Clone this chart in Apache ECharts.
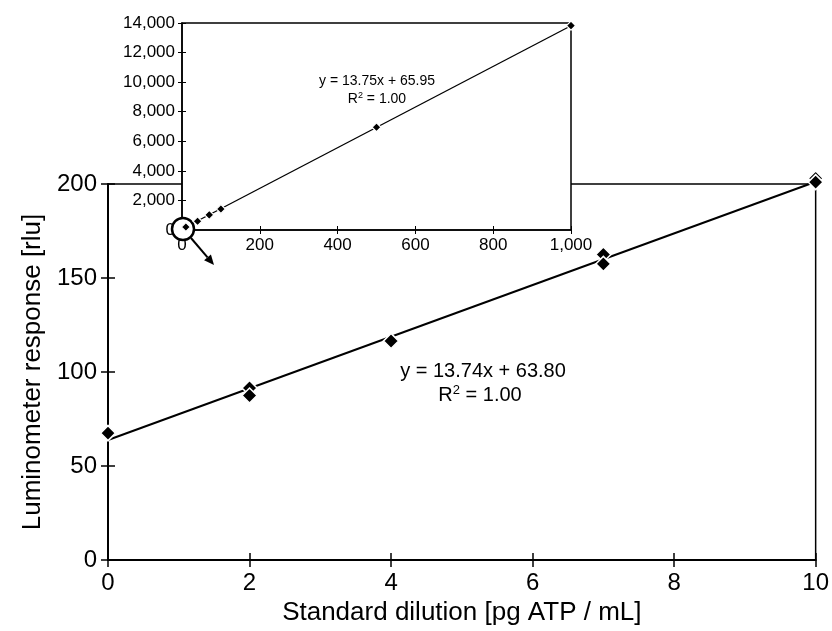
<!DOCTYPE html>
<html>
<head>
<meta charset="utf-8">
<script src="https://cdn.jsdelivr.net/npm/echarts@6/dist/echarts.min.js"></script>
<style>
  html, body { margin: 0; padding: 0; background: #fff; }
  #chart { width: 832px; height: 631px; }
</style>
</head>
<body>
<div id="chart"></div>
<script>
// Main calibration: standard dilutions (pg ATP / mL) and two replicate readings (rlu)
const xDilution = [0, 2, 4, 7, 10];
const rluRepA = [67.5, 91.5, 116.5, 162.5, 203];
const rluRepB = [67.5, 87.5, 116.5, 157.5, 201];
const mainFit = { slope: 13.74, intercept: 63.80, r2: '1.00' };
const mainXTicks = [0, 2, 4, 6, 8, 10];
const mainYTicks = [0, 50, 100, 150, 200];

// Inset: extended dilution range
const insetDilution = [10, 40, 70, 100, 500, 1000];
const insetRlu = [200, 590, 1020, 1420, 6950, 13820];
const insetFit = { slope: 13.75, intercept: 65.95, r2: '1.00' };
const insetXTicks = [0, 200, 400, 600, 800, 1000];
const insetYTicks = [0, 2000, 4000, 6000, 8000, 10000, 12000, 14000];

const FONT = 'Liberation Sans, Arial, sans-serif';
const NARROW = 'Liberation Sans Narrow, Arial Narrow, Liberation Sans, sans-serif';
const BLACK = '#000';

const pairs = (xs, ys) => xs.map((x, i) => [x, ys[i]]);
const fitLine = (fit, x0, x1) => [[x0, fit.intercept + fit.slope * x0], [x1, fit.intercept + fit.slope * x1]];
const fmtThousands = v => v.toLocaleString('en-US');

function valueAxis(opts) {
  return Object.assign({
    type: 'value',
    splitLine: { show: false },
    axisLine: { show: true, onZero: false, lineStyle: { color: BLACK, width: 2 } },
    axisTick: { show: true, inside: false, length: 7, lineStyle: { color: BLACK, width: 1.5 } },
    axisLabel: { color: BLACK, fontFamily: NARROW, fontSize: 24 }
  }, opts);
}
// companion axis that only draws the inner half of each crossing tick
function innerTicks(opts, len, width) {
  return Object.assign({
    type: 'value',
    splitLine: { show: false },
    axisLine: { show: false },
    axisLabel: { show: false },
    axisTick: { show: true, inside: true, length: len, lineStyle: { color: BLACK, width: width } }
  }, opts);
}

const chart = echarts.init(document.getElementById('chart'), null, { renderer: 'canvas' });

const mainX = { gridIndex: 0, min: mainXTicks[0], max: mainXTicks[mainXTicks.length - 1], interval: mainXTicks[1] - mainXTicks[0] };
const mainY = { gridIndex: 0, min: mainYTicks[0], max: mainYTicks[mainYTicks.length - 1], interval: mainYTicks[1] - mainYTicks[0] };
const inX = { gridIndex: 1, min: insetXTicks[0], max: insetXTicks[insetXTicks.length - 1], interval: insetXTicks[1] - insetXTicks[0] };
const inY = { gridIndex: 1, min: insetYTicks[0], max: insetYTicks[insetYTicks.length - 1], interval: insetYTicks[1] - insetYTicks[0] };

const option = {
  backgroundColor: '#fff',
  animation: false,
  grid: [
    { left: 108, right: 16, top: 184, bottom: 67, show: true, backgroundColor: 'transparent', borderColor: BLACK, borderWidth: 1.5, z: 0 },
    { left: 182, width: 389, top: 23, height: 207, show: true, backgroundColor: '#fff', borderColor: BLACK, borderWidth: 1.5, z: 2 }
  ],
  xAxis: [
    valueAxis(Object.assign({}, mainX, {
      position: 'bottom',
      name: 'Standard dilution [pg ATP / mL]',
      nameLocation: 'middle', nameGap: 40,
      nameTextStyle: { color: BLACK, fontFamily: FONT, fontSize: 26 },
      axisLabel: { color: BLACK, fontFamily: NARROW, fontSize: 24, margin: 11 }
    })),
    innerTicks(Object.assign({}, mainX, { position: 'bottom' }), 7, 1.5),
    valueAxis(Object.assign({}, inX, {
      position: 'bottom', z: 3,
      axisLine: { show: true, onZero: false, lineStyle: { color: BLACK, width: 1.5 } },
      axisTick: { show: true, length: 4, lineStyle: { color: BLACK, width: 1 } },
      axisLabel: { color: BLACK, fontFamily: NARROW, fontSize: 17, margin: 7, formatter: fmtThousands }
    })),
    innerTicks(Object.assign({}, inX, { position: 'bottom', z: 3 }), 4, 1)
  ],
  yAxis: [
    valueAxis(Object.assign({}, mainY, {
      position: 'left',
      name: 'Luminometer response [rlu]',
      nameLocation: 'middle', nameGap: 58, nameRotate: 90,
      nameTextStyle: { color: BLACK, fontFamily: FONT, fontSize: 26 },
      axisLabel: { color: BLACK, fontFamily: NARROW, fontSize: 24, margin: 11 }
    })),
    innerTicks(Object.assign({}, mainY, { position: 'left' }), 7, 1.5),
    valueAxis(Object.assign({}, inY, {
      position: 'left', z: 3,
      axisLine: { show: true, onZero: false, lineStyle: { color: BLACK, width: 1.5 } },
      axisTick: { show: true, length: 4, lineStyle: { color: BLACK, width: 1 } },
      axisLabel: { color: BLACK, fontFamily: NARROW, fontSize: 17, margin: 7, formatter: fmtThousands }
    })),
    innerTicks(Object.assign({}, inY, { position: 'left', z: 3 }), 4, 1)
  ],
  series: [
    {
      name: 'Linear fit', type: 'line', xAxisIndex: 0, yAxisIndex: 0, clip: false,
      data: fitLine(mainFit, xDilution[0], xDilution[xDilution.length - 1]),
      showSymbol: false, lineStyle: { color: BLACK, width: 2 }, z: 2, silent: true
    },
    {
      name: 'Replicate A', type: 'scatter', xAxisIndex: 0, yAxisIndex: 0, clip: false,
      data: pairs(xDilution, rluRepA), symbol: 'diamond', symbolSize: 15,
      itemStyle: { color: BLACK, opacity: 1, borderColor: '#fff', borderWidth: 1.5 }, z: 3
    },
    {
      name: 'Replicate B', type: 'scatter', xAxisIndex: 0, yAxisIndex: 0, clip: false,
      data: pairs(xDilution, rluRepB), symbol: 'diamond', symbolSize: 15,
      itemStyle: { color: BLACK, opacity: 1, borderColor: '#fff', borderWidth: 1.5 }, z: 4
    },
    {
      name: 'Inset fit', type: 'line', xAxisIndex: 2, yAxisIndex: 2, clip: false,
      data: fitLine(insetFit, 0, insetXTicks[insetXTicks.length - 1]),
      showSymbol: false, lineStyle: { color: BLACK, width: 1.3 }, z: 5, silent: true
    },
    {
      name: 'Inset points', type: 'scatter', xAxisIndex: 2, yAxisIndex: 2, clip: false,
      data: pairs(insetDilution, insetRlu), symbol: 'diamond', symbolSize: 9,
      itemStyle: { color: BLACK, opacity: 1, borderColor: '#fff', borderWidth: 1.2 }, z: 20
    }
  ]
};

chart.setOption(option);

// Equation labels and the zoom marker around the inset origin
const origin = chart.convertToPixel({ xAxisIndex: 2, yAxisIndex: 2 }, [0, 0]);
const cx = origin[0] + 1, cy = origin[1] - 1;
const ax0 = [cx + 8, cy + 9], ax1 = [cx + 31, cy + 36];
const dx = ax1[0] - ax0[0], dy = ax1[1] - ax0[1];
const dl = Math.hypot(dx, dy), ux = dx / dl, uy = dy / dl;
const headLen = 10, headHalf = 4.5;
const baseX = ax1[0] - ux * headLen, baseY = ax1[1] - uy * headLen;

const eqRich = size => ({ sup: { fontSize: Math.round(size * 0.65), verticalAlign: 'top', padding: [0, 0, size * 0.45, 0], fontFamily: FONT, fill: BLACK } });

chart.setOption({
  graphic: [
    {
      type: 'text', z: 10, x: 483, y: 371,
      style: { text: 'y = ' + mainFit.slope.toFixed(2) + 'x + ' + mainFit.intercept.toFixed(2), fill: BLACK, fontFamily: FONT, fontSize: 20, align: 'center', verticalAlign: 'middle' }
    },
    {
      type: 'text', z: 10, x: 480, y: 395,
      style: { text: 'R{sup|2} = ' + mainFit.r2, rich: eqRich(20), fill: BLACK, fontFamily: FONT, fontSize: 20, align: 'center', verticalAlign: 'middle' }
    },
    {
      type: 'text', z: 10, x: 377, y: 81,
      style: { text: 'y = ' + insetFit.slope.toFixed(2) + 'x + ' + insetFit.intercept.toFixed(2), fill: BLACK, fontFamily: FONT, fontSize: 14, align: 'center', verticalAlign: 'middle' }
    },
    {
      type: 'text', z: 10, x: 377, y: 99,
      style: { text: 'R{sup|2} = ' + insetFit.r2, rich: eqRich(14), fill: BLACK, fontFamily: FONT, fontSize: 14, align: 'center', verticalAlign: 'middle' }
    },
    {
      type: 'circle', z: 10, shape: { cx: cx, cy: cy, r: 11 },
      style: { fill: '#fff', stroke: BLACK, lineWidth: 2.5 }
    },
    {
      type: 'line', z: 10, shape: { x1: ax0[0], y1: ax0[1], x2: baseX, y2: baseY },
      style: { stroke: BLACK, lineWidth: 2 }
    },
    {
      type: 'polygon', z: 10,
      shape: { points: [ax1, [baseX - uy * headHalf, baseY + ux * headHalf], [baseX + uy * headHalf, baseY - ux * headHalf]] },
      style: { fill: BLACK }
    }
  ]
});
</script>
</body>
</html>
